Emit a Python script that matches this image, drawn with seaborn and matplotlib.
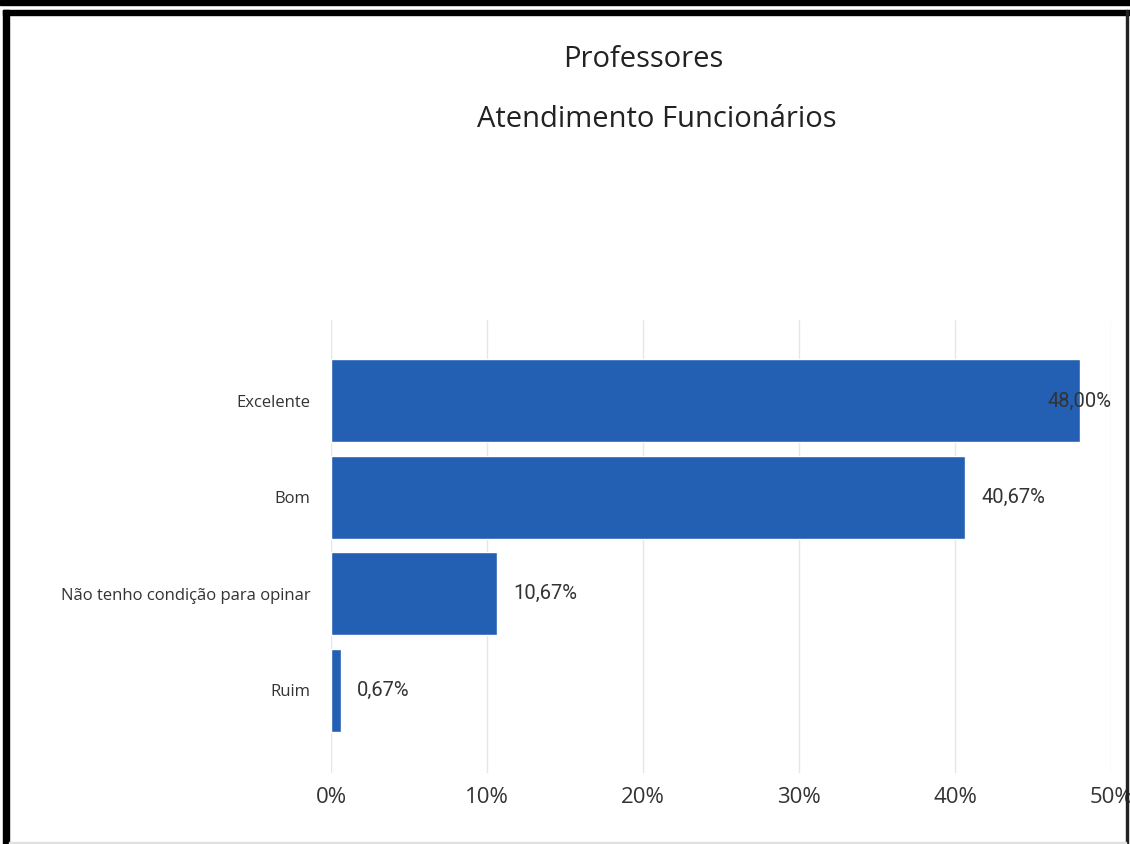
import matplotlib.pyplot as plt
import matplotlib.patches as mpatches
import pandas as pd
import seaborn as sns

# data
categories = ['Excelente', 'Bom', 'Não tenho condição para opinar', 'Ruim']
values = [48.00, 40.67, 10.67, 0.67]
xticks = [0, 10, 20, 30, 40, 50]

df = pd.DataFrame({'cat': categories, 'pct': values})

sns.set_style('white')
plt.rcParams['font.family'] = ['Open Sans', 'DejaVu Sans']

fig = plt.figure(figsize=(11.3, 8.44), dpi=100)
ax = fig.add_axes([0.2929, 0.0841, 0.6903, 0.5368])

sns.barplot(data=df, x='pct', y='cat', orient='h', color='#2360B3',
            saturation=1, width=0.86, ax=ax)

ax.set_xlim(0, 50)
ax.set_ylim(3.86, -0.84)
ax.set_xticks(xticks)
ax.set_xticklabels([f'{t}%' for t in xticks], fontsize=16, color='#333333')
ax.tick_params(axis='x', length=0, pad=10)
ax.tick_params(axis='y', length=0, pad=15, labelsize=12, labelcolor='#333333')
ax.set_xlabel('')
ax.set_ylabel('')
ax.grid(axis='x', color='#E6E6E6', linewidth=1)
ax.set_axisbelow(True)
for s in ax.spines.values():
    s.set_visible(False)

# value labels
for i, v in enumerate(values):
    txt = f'{v:.2f}%'.replace('.', ',')
    if v > 45:
        ax.text(50, i, txt, ha='right', va='center', fontsize=14.5,
                color='#333333', family=['Roboto', 'DejaVu Sans'], clip_on=False)
    else:
        ax.text(v + 1.0, i, txt, ha='left', va='center', fontsize=14.5,
                color='#333333', family=['Roboto', 'DejaVu Sans'])

fig.text(0.569, 0.929, 'Professores', ha='center', va='center',
         fontsize=21, color='#222222')
fig.text(0.581, 0.858, 'Atendimento Funcionários', ha='center', va='center',
         fontsize=21, color='#222222')

# black frame around the visual
W, H = 1130, 844
def box(x, y, w, h, c):
    fig.patches.append(mpatches.Rectangle((x / W, 1 - (y + h) / H), w / W, h / H,
                                          transform=fig.transFigure, color=c,
                                          zorder=10))
box(0, 0, W, 5, 'black')
box(3, 10, W - 3, 5, 'black')
box(3, 10, 6, H - 10, 'black')
box(1126, 10, 2, H - 10, '#222222')
box(9, H - 2, 1117, 2, '#E0E0E0')

fig.savefig('out.png', dpi=100)
